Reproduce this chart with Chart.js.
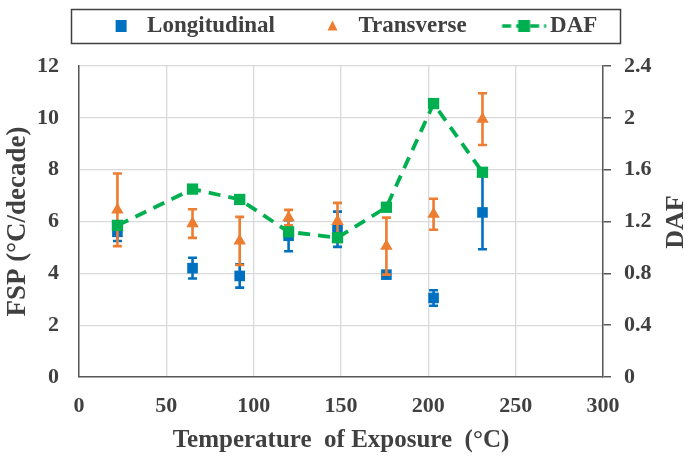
<!DOCTYPE html>
<html>
<head>
<meta charset="utf-8">
<script src="https://cdn.jsdelivr.net/npm/chart.js@4.4.1/dist/chart.umd.min.js"></script>
<style>
  html, body { margin: 0; padding: 0; background: #fff; }
</style>
</head>
<body>
<canvas id="grafico" width="691" height="460"></canvas>
<script>
// Dados
var temperatura = [22, 65, 92, 120, 148, 176, 203, 231];
var longitudinal = [5.6, 4.2, 3.9, 5.45, 5.7, 3.95, 3.05, 6.35];
var erroLong = [0.35, 0.4, 0.45, 0.6, 0.68, 0.1, 0.3, 1.42];
var transversal = [6.45, 5.92, 5.25, 6.15, 6.0, 5.05, 6.28, 9.95];
var erroTrans = [1.4, 0.55, 0.93, 0.3, 0.72, 1.1, 0.6, 1.0];
var daf = [1.17, 1.45, 1.37, 1.12, 1.075, 1.31, 2.11, 1.58];

var ticksX = [0, 50, 100, 150, 200, 250, 300];
var ticksFsp = [0, 2, 4, 6, 8, 10, 12];
var ticksDaf = [0, 0.4, 0.8, 1.2, 1.6, 2, 2.4];

var azul = '#0070C0', laranja = '#ED7D31', verde = '#00B050';
var texto = '#404040', eixo = '#595959', grade = '#d9d9d9';
var fonte = 'Liberation Serif';

// legenda: largura da caixa do ícone e distância do marcador
var caixa = 64, marcador = 49.5;

function pontos(ys) {
  return temperatura.map(function (t, i) { return { x: t, y: ys[i] }; });
}

// ícones da legenda (marcador deslocado dentro da caixa)
function icone(tipo, cor) {
  var c = document.createElement('canvas');
  c.width = caixa * 2; c.height = 24;
  var g = c.getContext('2d');
  var mx = marcador + caixa / 2, my = 12;
  g.fillStyle = cor; g.strokeStyle = cor;
  if (tipo === 'quadrado') g.fillRect(mx - 5.5, my - 6, 11, 12);
  if (tipo === 'triangulo') {
    g.beginPath(); g.moveTo(mx, my - 5.5); g.lineTo(mx + 5, my + 4.5); g.lineTo(mx - 5, my + 4.5);
    g.closePath(); g.fill();
  }
  if (tipo === 'linha') {
    g.lineWidth = 3.5; g.setLineDash([9, 5]);
    g.beginPath(); g.moveTo(mx - 22, my); g.lineTo(mx + 22, my); g.stroke();
    g.fillRect(mx - 6, my - 6, 12, 12);
  }
  return c;
}
var icones = [icone('quadrado', azul), icone('triangulo', laranja), icone('linha', verde)];

var barrasErro = {
  id: 'barrasErro',
  beforeDatasetDraw: function (chart, args) {
    var ds = chart.data.datasets[args.index];
    if (!ds.erros) return;
    var ctx = chart.ctx, ys = chart.scales[ds.yAxisID], xs = chart.scales.x;
    ctx.save();
    ctx.strokeStyle = ds.backgroundColor;
    ctx.lineWidth = 2.6;
    ds.data.forEach(function (p, i) {
      var x = xs.getPixelForValue(p.x);
      var t = ys.getPixelForValue(p.y + ds.erros[i]);
      var b = ys.getPixelForValue(p.y - ds.erros[i]);
      ctx.beginPath();
      ctx.moveTo(x, t); ctx.lineTo(x, b);
      ctx.moveTo(x - 4.5, t); ctx.lineTo(x + 4.5, t);
      ctx.moveTo(x - 4.5, b); ctx.lineTo(x + 4.5, b);
      ctx.stroke();
    });
    ctx.restore();
  }
};

// espaço entre a legenda e a área do gráfico
var espacador = {
  id: 'espacador',
  beforeInit: function (chart) {
    Chart.layouts.addBox(chart, {
      position: 'top', weight: 0, fullSize: true, options: {},
      isHorizontal: function () { return true; },
      update: function (w) { this.width = w; this.height = 18.5; },
      draw: function () {}
    });
  }
};

var molduraLegenda = {
  id: 'molduraLegenda',
  afterDraw: function (chart) {
    var ctx = chart.ctx, hb = chart.legend.legendHitBoxes;
    if (!hb || !hb.length) return;
    var ult = hb[hb.length - 1];
    var meio = hb[0].top + 11.5;
    var esq = hb[0].left + marcador - 50.5, dir = ult.left + ult.width + 22;
    ctx.save();
    ctx.strokeStyle = texto; ctx.lineWidth = 1.5;
    ctx.strokeRect(Math.round(esq) + 0.5, Math.round(meio - 17) + 0.5, Math.round(dir - esq), 34);
    // título do eixo direito (lido de baixo para cima)
    ctx.translate(676, 222);
    ctx.rotate(-Math.PI / 2);
    ctx.fillStyle = texto;
    ctx.font = 'bold 26px "' + fonte + '"';
    ctx.textAlign = 'center'; ctx.textBaseline = 'middle';
    ctx.fillText('DAF', 0, 0);
    ctx.restore();
  }
};

var ctx = document.getElementById('grafico').getContext('2d');

new Chart(ctx, {
  type: 'scatter',
  data: {
    datasets: [{
      label: 'Longitudinal',
      data: pontos(longitudinal),
      erros: erroLong,
      yAxisID: 'y',
      order: 3,
      backgroundColor: azul,
      borderColor: azul,
      pointStyle: 'rect',
      pointRadius: 7.5,
      pointBorderWidth: 0
    }, {
      label: 'Transverse',
      data: pontos(transversal),
      erros: erroTrans,
      yAxisID: 'y',
      order: 2,
      backgroundColor: laranja,
      borderColor: laranja,
      pointStyle: 'triangle',
      pointRadius: 7.2,
      pointBorderWidth: 0
    }, {
      label: 'DAF',
      data: pontos(daf),
      yAxisID: 'y1',
      order: 1,
      showLine: true,
      borderColor: verde,
      backgroundColor: verde,
      borderWidth: 3.8,
      borderDash: [12, 8],
      pointStyle: 'rect',
      pointRadius: 8,
      pointBorderWidth: 0
    }]
  },
  options: {
    responsive: false,
    animation: false,
    events: [],
    layout: { padding: { top: 6.5, left: 0, right: 22, bottom: 0 } },
    scales: {
      x: {
        type: 'linear',
        min: 0, max: 300,
        afterBuildTicks: function (a) { a.ticks = ticksX.map(function (v) { return { value: v }; }); },
        afterFit: function (a) { a.height = 83; },
        grid: { color: grade, lineWidth: 1.3, drawTicks: false },
        border: { color: eixo, width: 1.5 },
        ticks: { padding: 16, color: texto, font: { family: fonte, weight: 'bold', size: 22 } },
        title: {
          display: true,
          text: 'Temperature  of Exposure  (°C)',
          color: texto,
          padding: { top: 0, bottom: 4 },
          font: { family: fonte, weight: 'bold', size: 25 }
        }
      },
      y: {
        position: 'left',
        min: 0, max: 12,
        afterBuildTicks: function (a) { a.ticks = ticksFsp.map(function (v) { return { value: v }; }); },
        afterFit: function (a) { a.width = 79; },
        grid: { color: grade, lineWidth: 1.3, drawTicks: false },
        border: { color: eixo, width: 1.5 },
        ticks: { padding: 20, color: texto, font: { family: fonte, weight: 'bold', size: 22 } },
        title: {
          display: true,
          text: 'FSP (°C/decade)',
          color: texto,
          padding: { top: 2, bottom: 0 },
          font: { family: fonte, weight: 'bold', size: 27 }
        }
      },
      y1: {
        position: 'right',
        min: 0, max: 2.4,
        afterBuildTicks: function (a) { a.ticks = ticksDaf.map(function (v) { return { value: v }; }); },
        afterFit: function (a) { a.width = 66; },
        grid: { drawOnChartArea: false, color: eixo, tickColor: eixo, tickLength: 8, lineWidth: 1.5 },
        border: { color: eixo, width: 1.5 },
        ticks: {
          padding: 13, color: texto, font: { family: fonte, weight: 'bold', size: 22 },
          callback: function (v) { return String(v); }
        }
      }
    },
    plugins: {
      tooltip: { enabled: false },
      legend: {
        position: 'top',
        labels: {
          usePointStyle: true,
          pointStyleWidth: caixa,
          padding: 8,
          color: texto,
          font: { family: fonte, weight: 'bold', size: 23 },
          generateLabels: function (chart) {
            return chart.data.datasets.map(function (ds, i) {
              return {
                text: ds.label,
                datasetIndex: i,
                pointStyle: icones[i],
                fillStyle: ds.backgroundColor,
                strokeStyle: ds.borderColor,
                lineWidth: 0,
                fontColor: texto,
                hidden: false
              };
            });
          }
        }
      }
    }
  },
  plugins: [barrasErro, espacador, molduraLegenda]
});
</script>
</body>
</html>
